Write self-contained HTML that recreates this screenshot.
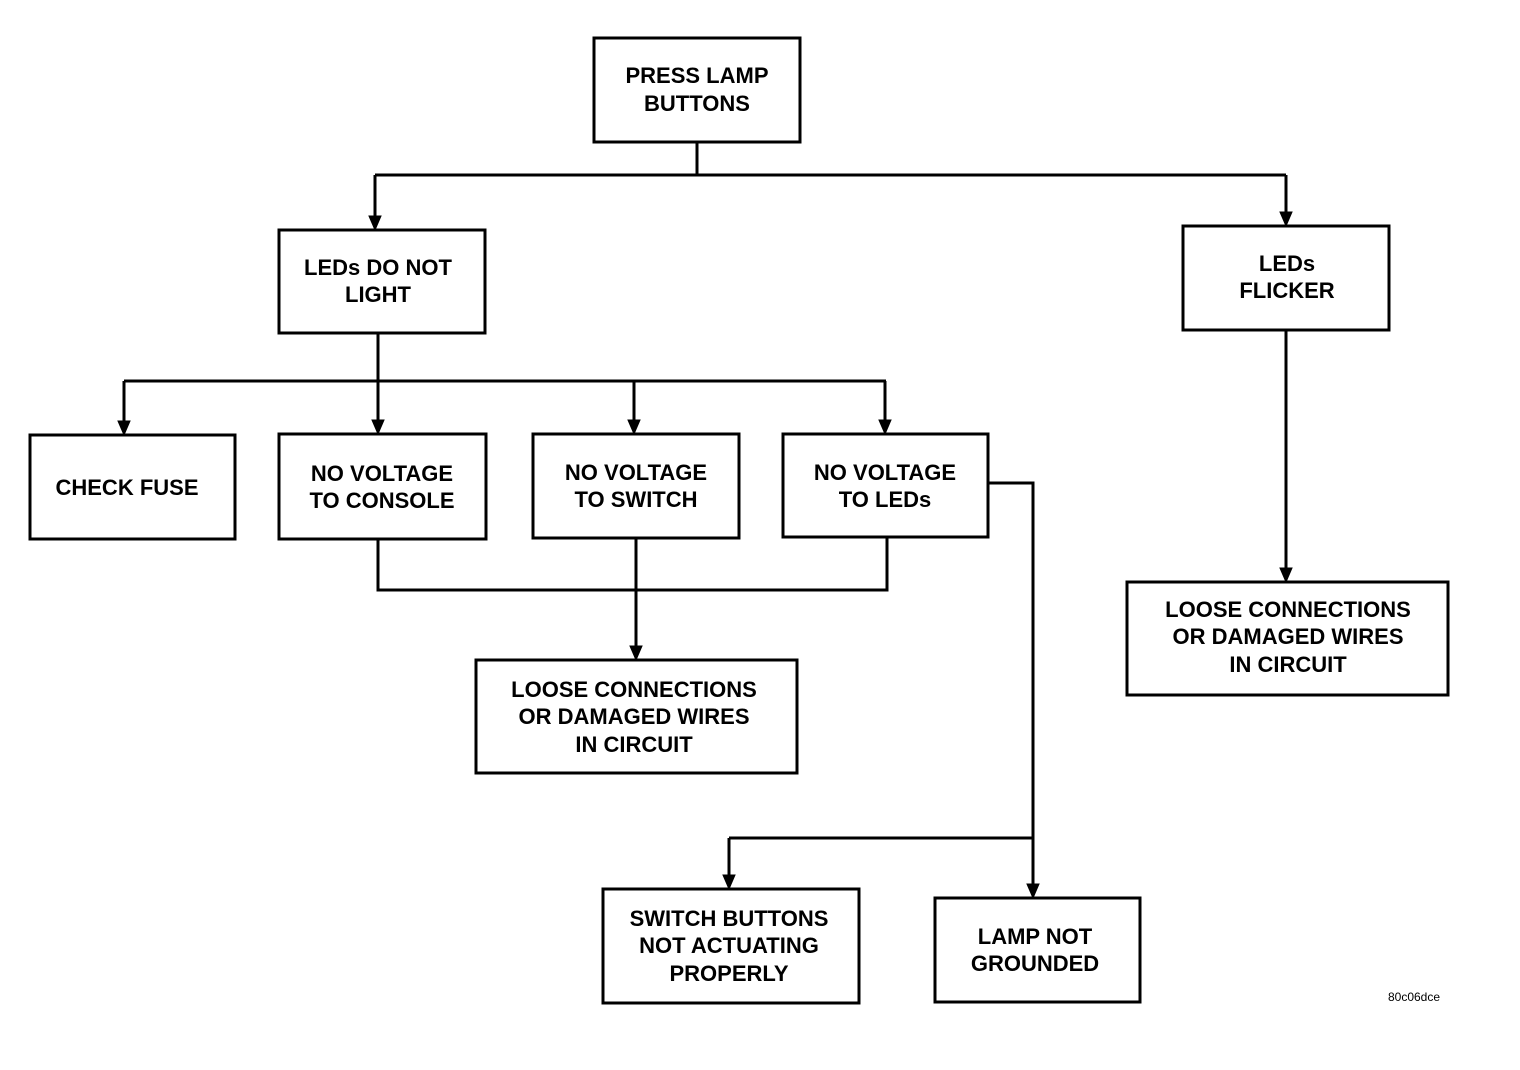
<!DOCTYPE html>
<html><head><meta charset="utf-8"><style>
html,body{margin:0;padding:0;background:#fff;}
svg{display:block;}
text{font-family:"Liberation Sans",Arial,sans-serif;font-weight:bold;font-size:22px;fill:#000;text-anchor:middle;}
</style></head><body>
<svg width="1520" height="1070" viewBox="0 0 1520 1070" xmlns="http://www.w3.org/2000/svg">
<defs><marker id="a" markerWidth="12" markerHeight="14" refX="6" refY="13" orient="auto" markerUnits="userSpaceOnUse" viewBox="0 0 12 14"><path d="M0,0 L6,14 L12,0 L6,4 Z" fill="#000" transform="rotate(-90 6 7)"/></marker></defs>
<g fill="none" stroke="#000" stroke-width="3">
<rect x="594" y="38" width="206" height="104"/>
<rect x="279" y="230" width="206" height="103"/>
<rect x="1183" y="226" width="206" height="104"/>
<rect x="30" y="435" width="205" height="104"/>
<rect x="279" y="434" width="207" height="105"/>
<rect x="533" y="434" width="206" height="104"/>
<rect x="783" y="434" width="205" height="103"/>
<rect x="476" y="660" width="321" height="113"/>
<rect x="1127" y="582" width="321" height="113"/>
<rect x="603" y="889" width="256" height="114"/>
<rect x="935" y="898" width="205" height="104"/>
<path d="M697 142V175M375 175H1286"/>
<path d="M378 333V381M124 381H886"/>
<path d="M378 539V590H887V537"/>
<path d="M988 483H1033V838M729 838H1033"/>
</g>
<g stroke="#000" stroke-width="3" fill="#000">
<path d="M375 175V218"/><path d="M369 216L375 230L381 216Z" stroke-width="1"/>
<path d="M1286 175V214"/><path d="M1280 212L1286 226L1292 212Z" stroke-width="1"/>
<path d="M124 381V422"/><path d="M118 421L124 435L130 421Z" stroke-width="1"/>
<path d="M378 381V422"/><path d="M372 420L378 434L384 420Z" stroke-width="1"/>
<path d="M634 381V422"/><path d="M628 420L634 434L640 420Z" stroke-width="1"/>
<path d="M885 381V422"/><path d="M879 420L885 434L891 420Z" stroke-width="1"/>
<path d="M636 538V648"/><path d="M630 646L636 660L642 646Z" stroke-width="1"/>
<path d="M1033 838V886"/><path d="M1027 884L1033 898L1039 884Z" stroke-width="1"/>
<path d="M729 838V877"/><path d="M723 875L729 889L735 875Z" stroke-width="1"/>
<path d="M1286 330V570"/><path d="M1280 568L1286 582L1292 568Z" stroke-width="1"/>
</g>
<text x="697" y="83">PRESS LAMP</text><text x="697" y="111">BUTTONS</text>
<text x="378" y="275">LEDs DO NOT</text><text x="378" y="302">LIGHT</text>
<text x="1287" y="271">LEDs</text><text x="1287" y="298">FLICKER</text>
<text x="127" y="495">CHECK FUSE</text>
<text x="382" y="481">NO VOLTAGE</text><text x="382" y="508">TO CONSOLE</text>
<text x="636" y="480">NO VOLTAGE</text><text x="636" y="507">TO SWITCH</text>
<text x="885" y="480">NO VOLTAGE</text><text x="885" y="507">TO LEDs</text>
<text x="634" y="697">LOOSE CONNECTIONS</text><text x="634" y="724">OR DAMAGED WIRES</text><text x="634" y="752">IN CIRCUIT</text>
<text x="1288" y="617">LOOSE CONNECTIONS</text><text x="1288" y="644">OR DAMAGED WIRES</text><text x="1288" y="672">IN CIRCUIT</text>
<text x="729" y="926">SWITCH BUTTONS</text><text x="729" y="953">NOT ACTUATING</text><text x="729" y="981">PROPERLY</text>
<text x="1035" y="944">LAMP NOT</text><text x="1035" y="971">GROUNDED</text>
<text x="1414" y="1001" style="font-size:12px;font-weight:normal">80c06dce</text>
</svg>
</body></html>
